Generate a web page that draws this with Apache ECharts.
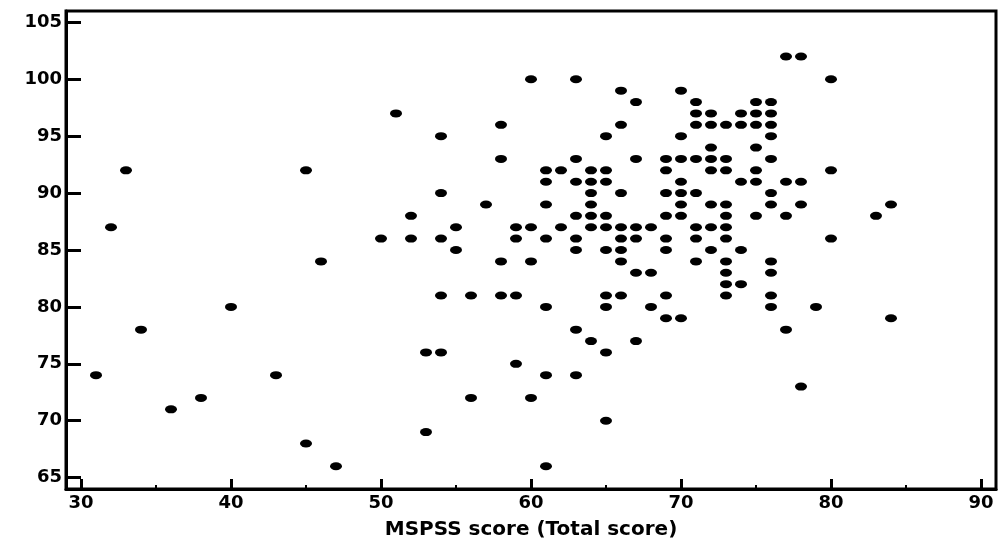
<!DOCTYPE html>
<html>
<head>
<meta charset="utf-8">
<script src="https://cdn.jsdelivr.net/npm/echarts@6/dist/echarts.min.js"></script>
<style>
	html, body { margin: 0; padding: 0; background: #fff; }
	#main { width: 1000px; height: 545px; }
</style>
</head>
<body>
<div id="main"></div>
<script>
// y value of each row of dots, and the MSPSS scores found on that row
var rowScores = [102, 100, 99, 98, 97, 96, 95, 94, 93, 92, 91, 90, 89, 88, 87, 86, 85, 84, 83, 82, 81, 80, 79, 78, 77, 76, 75, 74, 73, 72, 71, 70, 69, 68, 66];
var rowMspss = [
	[77, 78],
	[60, 63, 80],
	[66, 70],
	[67, 71, 75, 76],
	[51, 71, 72, 74, 75, 76],
	[58, 66, 71, 72, 73, 74, 75, 76],
	[54, 65, 70, 76],
	[72, 75],
	[58, 63, 67, 69, 70, 71, 72, 73, 76],
	[33, 45, 61, 62, 64, 65, 69, 72, 73, 75, 80],
	[61, 63, 64, 65, 70, 74, 75, 77, 78],
	[54, 64, 66, 69, 70, 71, 76],
	[57, 61, 64, 70, 72, 73, 76, 78, 84],
	[52, 63, 64, 65, 69, 70, 73, 75, 77, 83],
	[32, 55, 59, 60, 62, 64, 65, 66, 67, 68, 71, 72, 73],
	[50, 52, 54, 59, 61, 63, 66, 67, 69, 71, 73, 80],
	[55, 63, 65, 66, 69, 72, 74],
	[46, 58, 60, 66, 71, 73, 76],
	[67, 68, 73, 76],
	[73, 74],
	[54, 56, 58, 59, 65, 66, 69, 73, 76],
	[40, 61, 65, 68, 76, 79],
	[69, 70, 84],
	[34, 63, 77],
	[64, 67],
	[53, 54, 65],
	[59],
	[31, 43, 61, 63],
	[78],
	[38, 56, 60],
	[36],
	[65],
	[53],
	[45],
	[47, 61]
];
var xTicks = [30, 40, 50, 60, 70, 80, 90];
var xMinorTicks = [35, 45, 55, 65, 75, 85];
var yTicks = [65, 70, 75, 80, 85, 90, 95, 100, 105];

var points = [];
for (var i = 0; i < rowScores.length; i++) {
	for (var j = 0; j < rowMspss[i].length; j++) {
		points.push([rowMspss[i][j], rowScores[i]]);
	}
}

var font = 'DejaVu Sans';
var chart = echarts.init(document.getElementById('main'));
chart.setOption({
	animation: false,
	grid: {
		left: 66,
		right: 4,
		top: 11,
		bottom: 55,
		show: true,
		borderColor: '#000',
		borderWidth: 3
	},
	xAxis: [
		{
			type: 'value',
			min: 29,
			max: 91,
			splitLine: { show: false },
			axisLine: { lineStyle: { color: '#000', width: 3 } },
			axisTick: {
				inside: true,
				length: 10,
				customValues: xTicks,
				lineStyle: { color: '#000', width: 3 }
			},
			axisLabel: {
				customValues: xTicks,
				margin: 5,
				color: '#000',
				fontFamily: font,
				fontWeight: 'bold',
				fontSize: 18
			},
			name: 'MSPSS score (Total score)',
			nameLocation: 'middle',
			nameGap: 31,
			nameTextStyle: {
				color: '#000',
				fontFamily: font,
				fontWeight: 'bold',
				fontSize: 20
			}
		},
		{
			// short ticks halfway between the labels
			type: 'value',
			position: 'bottom',
			min: 29,
			max: 91,
			splitLine: { show: false },
			axisLine: { show: false },
			axisLabel: { show: false },
			axisTick: {
				inside: true,
				length: 4,
				customValues: xMinorTicks,
				lineStyle: { color: '#000', width: 2 }
			}
		}
	],
	yAxis: {
		type: 'value',
		min: 64,
		max: 106,
		splitLine: { show: false },
		axisLine: { lineStyle: { color: '#000', width: 3 } },
		axisTick: {
			inside: true,
			length: 15,
			customValues: yTicks,
			lineStyle: { color: '#000', width: 3 }
		},
		axisLabel: {
			customValues: yTicks,
			margin: 4,
			color: '#000',
			fontFamily: font,
			fontWeight: 'bold',
			fontSize: 18
		}
	},
	series: [{
		type: 'scatter',
		xAxisIndex: 0,
		symbol: 'path://M0,5a5,5 0 1,0 10,0a5,5 0 1,0 -10,0',
		symbolSize: [12, 8],
		itemStyle: { color: '#000', opacity: 1 },
		data: points
	}]
});
</script>
</body>
</html>
